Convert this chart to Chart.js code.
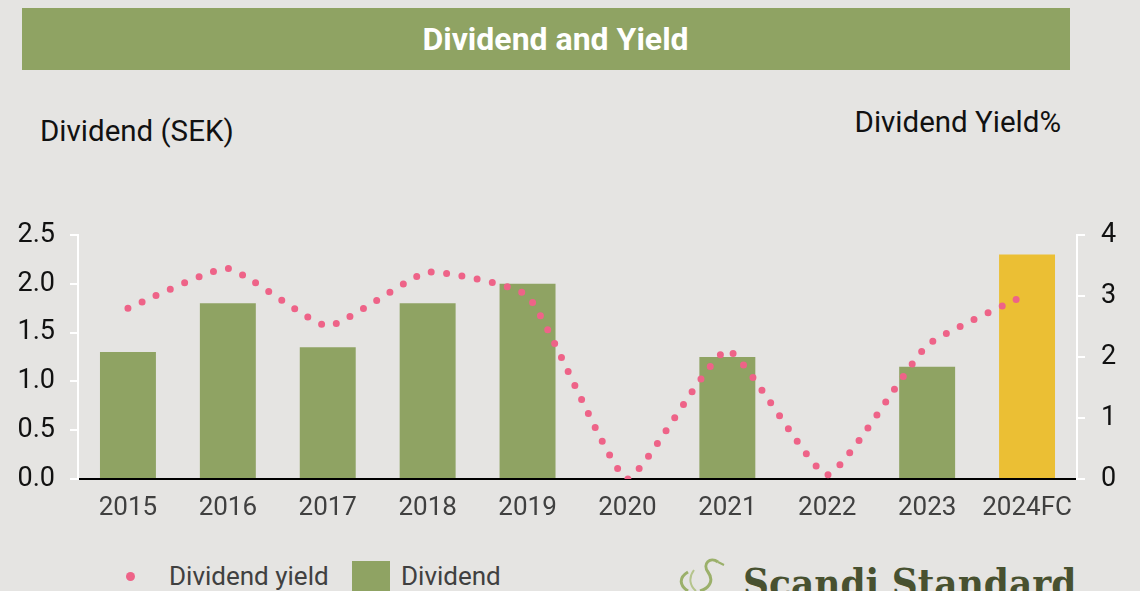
<!DOCTYPE html>
<html>
<head>
<meta charset="utf-8">
<script src="https://cdn.jsdelivr.net/npm/chart.js@4/dist/chart.umd.min.js"></script>
<style>
  body { margin: 0; width: 1140px; height: 591px; background: #e5e4e2; overflow: hidden; position: relative; font-family: Roboto, sans-serif; }
  .banner { position: absolute; left: 22px; top: 8px; width: 1048px; height: 62px; box-sizing: border-box; padding-left: 19px; background: #8fa363; color: #fff; font-weight: bold; font-size: 32px; text-align: center; line-height: 62px; }
  .axis-title { position: absolute; font-size: 29.5px; line-height: 1; color: #111; white-space: nowrap; }
  .legend { position: absolute; top: 563px; font-size: 26px; line-height: 1; color: #404040; white-space: nowrap; }
  .logo { position: absolute; left: 743px; top: 563px; font-family: "DejaVu Serif Condensed", "DejaVu Serif", serif; font-stretch: condensed; font-weight: bold; font-size: 40px; line-height: 1; color: #485130; white-space: nowrap; }
  #wrap { position: absolute; left: 0; top: 200px; width: 1140px; height: 330px; }
</style>
</head>
<body>
<div class="banner">Dividend and Yield</div>
<div class="axis-title" style="left:40px; top:117px;">Dividend (SEK)</div>
<div class="axis-title" style="right:79px; top:108px;">Dividend Yield%</div>
<div id="wrap"><canvas id="chart"></canvas></div>

<div class="legend" style="left:126px; width:9px; height:9px; top:572px; border-radius:50%; background:#ee6388;"></div>
<div class="legend" style="left:169px;">Dividend yield</div>
<div class="legend" style="left:352px; top:561px; width:38px; height:30px; background:#8fa363;"></div>
<div class="legend" style="left:401px;">Dividend</div>

<svg style="position:absolute; left:674px; top:556px;" width="60" height="35">
  <path d="M44 6 C36 0 28 8 34 16 C40 24 36 32 26 35" stroke="#9bb06a" stroke-width="3" fill="none"/>
  <path d="M44 6 L50 9" stroke="#9bb06a" stroke-width="2" fill="none"/>
  <path d="M14 16 C4 22 6 30 14 35" stroke="#9bb06a" stroke-width="3" fill="none"/>
  <path d="M20 14 C14 22 16 30 22 35" stroke="#b5c48c" stroke-width="2" fill="none"/>
</svg>
<div class="logo">Scandi Standard</div>

<script>
const years = ['2015', '2016', '2017', '2018', '2019', '2020', '2021', '2022', '2023', '2024FC'];
const dividend = [1.3, 1.8, 1.35, 1.8, 2.0, 0, 1.25, 0, 1.15, 2.3];
const dividendYield = [2.8, 3.45, 2.51, 3.39, 3.0, 0, 2.11, 0.07, 2.19, 3.03];
const leftTicks = [0, 0.5, 1.0, 1.5, 2.0, 2.5];
const rightTicks = [0, 1, 2, 3, 4];

const GREEN = '#8fa363';
const GOLD = '#ebbf34';
const PINK = '#ee6388';

const barColors = years.map(y => y.endsWith('FC') ? GOLD : GREEN);

new Chart(document.getElementById('chart'), {
    data: {
        labels: years,
        datasets: [
            {
                type: 'line',
                label: 'Dividend yield',
                data: dividendYield,
                yAxisID: 'yRight',
                borderColor: PINK,
                borderWidth: 7,
                borderDash: [0, 15.5],
                borderCapStyle: 'round',
                tension: 0.15,
                pointRadius: 0,
                fill: false,
                order: 0
            },
            {
                type: 'bar',
                label: 'Dividend',
                data: dividend,
                yAxisID: 'yLeft',
                backgroundColor: barColors,
                borderWidth: 0,
                categoryPercentage: 1,
                barPercentage: 0.56,
                order: 1
            }
        ]
    },
    options: {
        responsive: true,
        maintainAspectRatio: false,
        animation: false,
        layout: { padding: { top: 35, left: 0, right: 0, bottom: 0 } },
        plugins: { legend: { display: false }, tooltip: { enabled: false } },
        scales: {
            x: {
                grid: { display: false },
                border: { display: true, color: '#000', width: 2 },
                ticks: { color: '#404040', font: { family: 'Roboto', size: 26 }, padding: 6 },
                afterFit(scale) { scale.height = 51; }
            },
            yLeft: {
                position: 'left',
                min: 0,
                max: 2.5,
                afterBuildTicks(scale) { scale.ticks = leftTicks.map(v => ({ value: v })); },
                grid: { drawOnChartArea: false, drawTicks: true, tickLength: 8, color: '#fff', lineWidth: 2 },
                border: { display: true, color: '#fff', width: 2 },
                ticks: { color: '#111', font: { family: 'Roboto', size: 27 }, padding: 15, callback: v => v.toFixed(1) },
                afterFit(scale) { scale.width = 78; }
            },
            yRight: {
                position: 'right',
                min: 0,
                max: 4,
                afterBuildTicks(scale) { scale.ticks = rightTicks.map(v => ({ value: v })); },
                grid: { drawOnChartArea: false, drawTicks: true, tickLength: 8, color: '#fff', lineWidth: 2 },
                border: { display: true, color: '#fff', width: 2 },
                ticks: { color: '#111', font: { family: 'Roboto', size: 27 }, padding: 16 },
                afterFit(scale) { scale.width = 63; }
            }
        }
    }
});
</script>
</body>
</html>
